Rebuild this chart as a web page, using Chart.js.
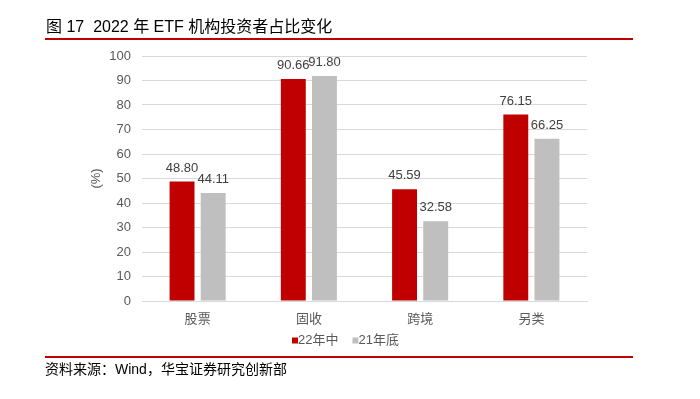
<!DOCTYPE html>
<html>
<head>
<meta charset="utf-8">
<script src="https://cdn.jsdelivr.net/npm/chart.js@4/dist/chart.umd.min.js"></script>
<style>
  html, body { margin: 0; padding: 0; background: #fff; }
  #wrap { width: 700px; height: 399px; position: relative; }
</style>
</head>
<body>
<div id="wrap"><canvas id="etfChart"></canvas></div>
<script>
// dados
const categorias = ['股票', '固收', '跨境', '另类'];
const serie22Meio = [48.80, 90.66, 45.59, 76.15];
const serie21Fim = [44.11, 91.80, 32.58, 66.25];
const nomesSeries = ['22年中', '21年底'];
const ticksY = [0, 10, 20, 30, 40, 50, 60, 70, 80, 90, 100];

const titulo = '图 17  2022 年 ETF 机构投资者占比变化';
const fonte = '资料来源：Wind，华宝证券研究创新部';

const VERMELHO = '#C00000';
const CINZA = '#BFBFBF';
const FONTE_LAT = "'Liberation Sans', 'Noto Sans CJK SC', sans-serif";
const FONTE_CJK = "'Noto Sans CJK SC', sans-serif";

// título, linhas vermelhas, rótulos dos valores e legenda
const decoracao = {
    id: 'decoracao',
    afterDatasetsDraw(chart) {
        const c = chart.ctx;
        c.save();
        c.fillStyle = '#404040';
        c.font = '13px ' + FONTE_LAT;
        c.textAlign = 'center';
        c.textBaseline = 'middle';
        chart.data.datasets.forEach((ds, i) => {
            chart.getDatasetMeta(i).data.forEach((bar, j) => {
                c.fillText(ds.data[j].toFixed(2), bar.x, bar.y - 13.5);
            });
        });
        c.restore();
    },
    afterDraw(chart) {
        const c = chart.ctx;
        c.save();
        // título
        c.fillStyle = '#000';
        c.font = '16px ' + FONTE_LAT;
        c.textAlign = 'left';
        c.textBaseline = 'middle';
        c.fillText(titulo, 46, 28);
        // linhas vermelhas
        c.strokeStyle = VERMELHO;
        c.lineWidth = 2;
        c.beginPath();
        c.moveTo(45, 39); c.lineTo(633, 39);
        c.moveTo(45, 357); c.lineTo(633, 357);
        c.stroke();
        // fonte
        c.font = '14px ' + FONTE_LAT;
        c.fillText(fonte, 45, 370);
        // legenda
        let x = 292;
        c.font = '13px ' + FONTE_LAT;
        chart.data.datasets.forEach((ds) => {
            c.fillStyle = ds.backgroundColor;
            c.fillRect(x, 337.5, 6, 6);
            c.fillStyle = '#595959';
            c.fillText(ds.label, x + 6, 340.5);
            x += 6 + c.measureText(ds.label).width + 14;
        });
        c.restore();
    }
};

const ctx = document.getElementById('etfChart').getContext('2d');
const etfChart = new Chart(ctx, {
    type: 'bar',
    data: {
        labels: categorias,
        datasets: [
            { label: nomesSeries[0], data: serie22Meio, backgroundColor: VERMELHO },
            { label: nomesSeries[1], data: serie21Fim, backgroundColor: CINZA }
        ]
    },
    options: {
        responsive: true,
        maintainAspectRatio: false,
        animation: false,
        layout: { padding: { top: 56, right: 113, bottom: 68, left: 0 } },
        datasets: { bar: { categoryPercentage: 0.56, barPercentage: 0.8 } },
        plugins: {
            legend: { display: false },
            tooltip: { enabled: false }
        },
        scales: {
            x: {
                grid: { display: false },
                border: { color: '#D9D9D9', width: 1 },
                ticks: { color: '#595959', font: { family: FONTE_CJK, size: 13 }, padding: 1 },
                afterFit: (s) => { s.height = 30; }
            },
            y: {
                min: 0,
                max: 100,
                afterBuildTicks: (s) => { s.ticks = ticksY.map(v => ({ value: v })); },
                grid: { color: '#D9D9D9', drawTicks: false },
                border: { display: false },
                ticks: { color: '#595959', font: { family: FONTE_LAT, size: 13 }, padding: 11 },
                title: {
                    display: true,
                    text: '(%)',
                    color: '#595959',
                    font: { family: FONTE_LAT, size: 13 },
                    padding: { top: 89, bottom: 0 }
                },
                afterFit: (s) => { s.width = 142; }
            }
        }
    },
    plugins: [decoracao]
});
</script>
</body>
</html>
